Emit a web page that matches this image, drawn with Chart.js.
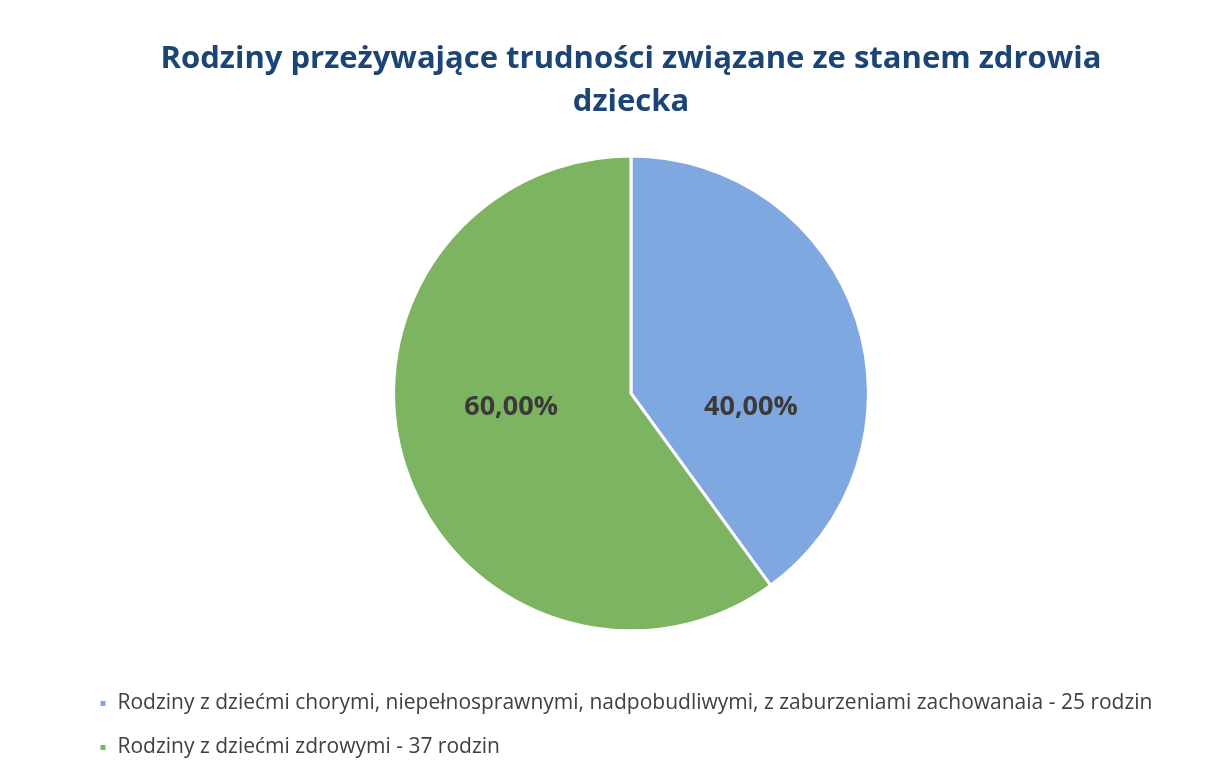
<!DOCTYPE html>
<html>
<head>
<meta charset="utf-8">
<script src="https://cdn.jsdelivr.net/npm/chart.js@4.4.1/dist/chart.umd.min.js"></script>
<style>
  html, body { margin: 0; padding: 0; background: #fff; }
  #wrap { width: 1212px; height: 772px; }
</style>
</head>
<body>
<div id="wrap"><canvas id="pieChart" width="1212" height="772"></canvas></div>
<script>
const categories = [
  'Rodziny z dziećmi chorymi, niepełnosprawnymi, nadpobudliwymi, z zaburzeniami zachowanaia - 25 rodzin',
  'Rodziny z dziećmi zdrowymi - 37 rodzin'
];
const shares = [40, 60];
const shareLabels = ['40,00%', '60,00%'];
const sliceColors = ['#7fa7e0', '#7db462'];

// labels drawn inside slices, Excel style
const sliceLabels = {
  id: 'sliceLabels',
  afterDatasetsDraw(chart) {
    const ctx = chart.ctx;
    const meta = chart.getDatasetMeta(0);
    ctx.save();
    ctx.font = "bold 27px 'Open Sans', sans-serif";
    ctx.fillStyle = '#3a3a3a';
    ctx.textAlign = 'center';
    ctx.textBaseline = 'middle';
    meta.data.forEach((arc, i) => {
      const mid = (arc.startAngle + arc.endAngle) / 2;
      const side = Math.cos(mid) >= 0 ? 1 : -1;
      const x = arc.x + side * arc.outerRadius * 0.505;
      const y = arc.y + arc.outerRadius * 0.06;
      ctx.fillText(shareLabels[i], x, y);
    });
    ctx.restore();
  }
};

const ctx = document.getElementById('pieChart').getContext('2d');

const pieChart = new Chart(ctx, {
  type: 'pie',
  data: {
    labels: categories,
    datasets: [{
      data: shares,
      backgroundColor: sliceColors,
      borderColor: '#ffffff',
      borderWidth: 3,
      radius: '86.3%'
    }]
  },
  options: {
    responsive: false,
    animation: false,
    layout: {
      padding: { top: 33, left: 76, right: 26, bottom: 4 }
    },
    plugins: {
      title: {
        display: true,
        text: ['Rodziny przeżywające trudności związane ze stanem zdrowia', 'dziecka'],
        color: '#1b4577',
        font: {
          family: "'Open Sans', sans-serif",
          size: 31,
          weight: 'bold',
          lineHeight: 1.4
        },
        padding: { top: 4, bottom: -7 }
      },
      legend: {
        position: 'bottom',
        align: 'start',
        labels: {
          boxWidth: 8,
          boxHeight: 8,
          padding: 23,
          color: '#404040',
          font: {
            family: "'Open Sans', sans-serif",
            size: 21
          }
        }
      },
      tooltip: { enabled: false }
    }
  },
  plugins: [sliceLabels]
});
</script>
</body>
</html>
